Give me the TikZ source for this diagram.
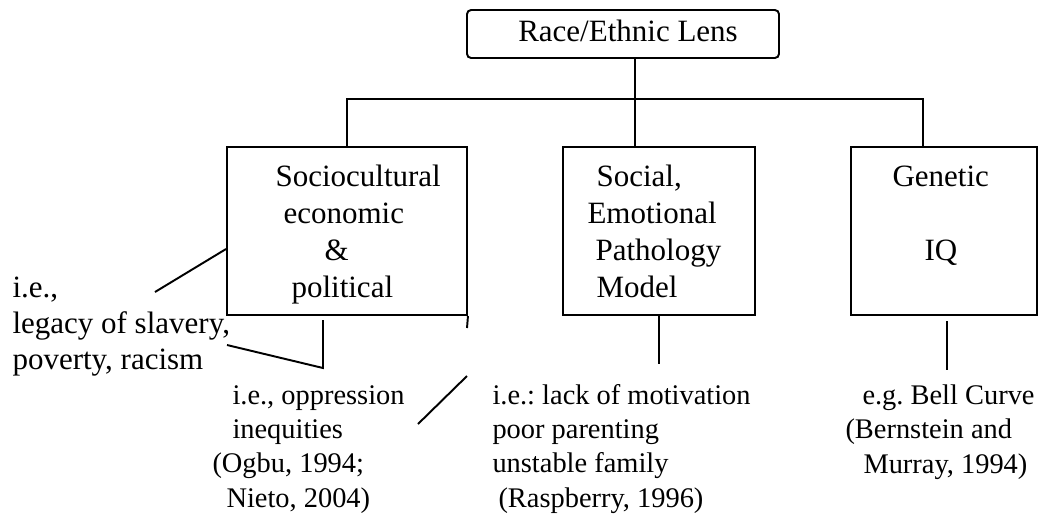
\documentclass[tikz,border=0pt]{standalone}
\usepackage{fontspec}
\setmainfont{Liberation Serif}
\usetikzlibrary{calc}
\newlength{\pxu}
\setlength{\pxu}{0.3871pt}

\begin{document}
\begin{tikzpicture}[x=0.3871pt, y=-0.3871pt,
    box/.style={draw, line width=0.75pt, inner sep=0pt},
    link/.style={line width=0.75pt},
    txt/.style={anchor=base west, align=left, inner sep=0pt, font={\fontsize{12}{14.2}\selectfont\frenchspacing}},
    small/.style={txt, font={\fontsize{11}{13.2}\selectfont\frenchspacing}}]
        \useasboundingbox (0,0) rectangle (1038,514);
        \node[box, rounded corners=1.6pt, minimum width=312\pxu, minimum height=48\pxu] (race) at (623,34) {};
        \node[box, minimum width=240\pxu, minimum height=168\pxu] (socio) at (347,231) {};
        \node[box, minimum width=192\pxu, minimum height=168\pxu] (social) at (659,231) {};
        \node[box, minimum width=186\pxu, minimum height=168\pxu] (genetic) at (944,231) {};
        \node[txt, anchor=base] (racetext) at (628,41) {Race/Ethnic Lens};
        \node[txt] (sociotext) at (275,297) {Sociocultural\\ \hspace*{8\pxu}economic\\ \hspace*{49\pxu}\&\\ \hspace*{16\pxu}political};
        \node[txt] (socialtext) at (587,297) {\hspace*{9\pxu}Social,\\ Emotional\\ \hspace*{8\pxu}Pathology\\ \hspace*{9\pxu}Model};
        \node[txt] (genetictext) at (892,260) {Genetic\\[14.2pt] \hspace*{32\pxu}IQ};
        \node[txt, font={\fontsize{12}{13.75}\selectfont}] (slaverytext) at (12,369) {i.e.,\\ legacy of slavery,\\ poverty, racism};
        \node[small] (oppressiontext) at (212,507) {\hspace*{20\pxu}i.e., oppression\\ \hspace*{20\pxu}inequities\\ (Ogbu, 1994;\\ \hspace*{14\pxu}Nieto, 2004)};
        \node[small] (pathologytext) at (492,507) {i.e.: lack of motivation\\ poor parenting\\ unstable family\\ \hspace*{6\pxu}(Raspberry, 1996)};
        \node[small] (bellcurvetext) at (845,473) {\hspace*{17\pxu}e.g. Bell Curve\\ (Bernstein and\\ \hspace*{18\pxu}Murray, 1994)};
        \coordinate (lbar) at (347,99);
        \coordinate (rbar) at (923,99);
        \coordinate (hub) at (635,99);
        \coordinate (socioend) at (467,328);
        \coordinate (slavery) at (155,292);
        \coordinate (oppA) at (227,345);
        \coordinate (oppB) at (323,368);
        \coordinate (oppC) at (323,320);
        \coordinate (ineqA) at (418,424);
        \coordinate (ineqB) at (467,376);
        \coordinate (pathend) at (659,364);
        \coordinate (geneA) at (947,321);
        \coordinate (geneB) at (947,370);
        \draw[link] (socio.north) -- (lbar) -- (rbar) -- (rbar |- genetic.north);
        \draw[link] (hub |- race.south) -- (hub |- social.north);
        \draw[link] (socio.south east) -- (socioend);
        \draw[link] (slavery) -- ($(socio.west)+(0,18)$);
        \draw[link] (oppA) -- (oppB) -- (oppC);
        \draw[link] (ineqA) -- (ineqB);
        \draw[link] (social.south) -- (pathend);
        \draw[link] (geneA) -- (geneB);
    \end{tikzpicture}
\end{document}
